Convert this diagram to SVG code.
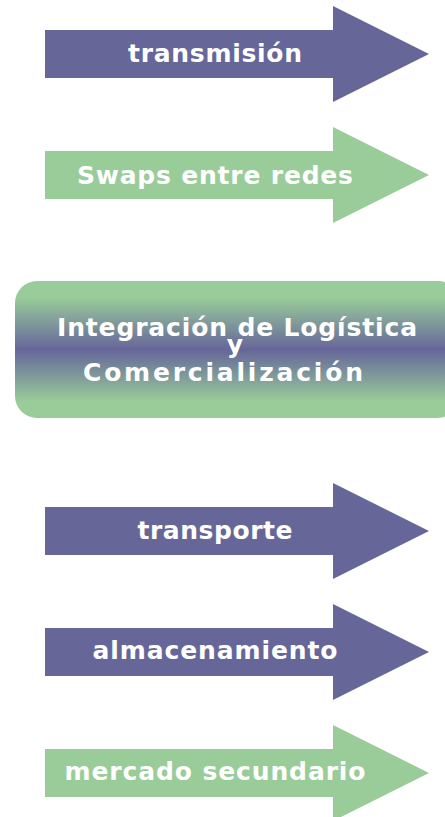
<svg xmlns="http://www.w3.org/2000/svg" width="445" height="817" viewBox="0 0 445 817">
<defs>
<linearGradient id="g" x1="0" y1="0" x2="0" y2="1">
<stop offset="0" stop-color="#99cc99"/>
<stop offset="0.12" stop-color="#99cc99"/>
<stop offset="0.5" stop-color="#666699"/>
<stop offset="0.88" stop-color="#99cc99"/>
<stop offset="1" stop-color="#99cc99"/>
</linearGradient>
<style>
.p{fill:#666699}
.gr{fill:#99cc99}
text{font-family:"DejaVu Sans",Verdana,sans-serif;font-weight:bold;font-size:25px;fill:#ffffff;text-anchor:middle}
</style>
</defs>
<rect width="445" height="817" fill="#ffffff"/>
<g id="n1"><polygon class="p" points="45,30 333,30 333,6 429,54 333,102 333,78 45,78"/><text x="215" y="62" textLength="174" lengthAdjust="spacing">transmisión</text></g>
<g id="n2"><polygon class="gr" points="45,151 333,151 333,127 429,175 333,223 333,199 45,199"/><text x="215" y="184" textLength="276" lengthAdjust="spacing">Swaps entre redes</text></g>
<g id="n3"><rect x="15" y="281" width="445" height="137" rx="22" fill="url(#g)"/>
<text x="237" y="336" textLength="360" lengthAdjust="spacing">Integración de Logística</text>
<text x="235" y="353">y</text>
<text x="223" y="381" textLength="280" lengthAdjust="spacing">Comercialización</text></g>
<g id="n4"><polygon class="p" points="45,507 333,507 333,483 429,531 333,579 333,555 45,555"/><text x="215" y="539" textLength="155" lengthAdjust="spacing">transporte</text></g>
<g id="n5"><polygon class="p" points="45,628 333,628 333,604 429,652 333,700 333,676 45,676"/><text x="215" y="659" textLength="245" lengthAdjust="spacing">almacenamiento</text></g>
<g id="n6"><polygon class="gr" points="45,749 333,749 333,725 429,773 333,821 333,797 45,797"/><text x="215" y="780" textLength="301" lengthAdjust="spacing">mercado secundario</text></g>
<g id="connectors"/>
</svg>
